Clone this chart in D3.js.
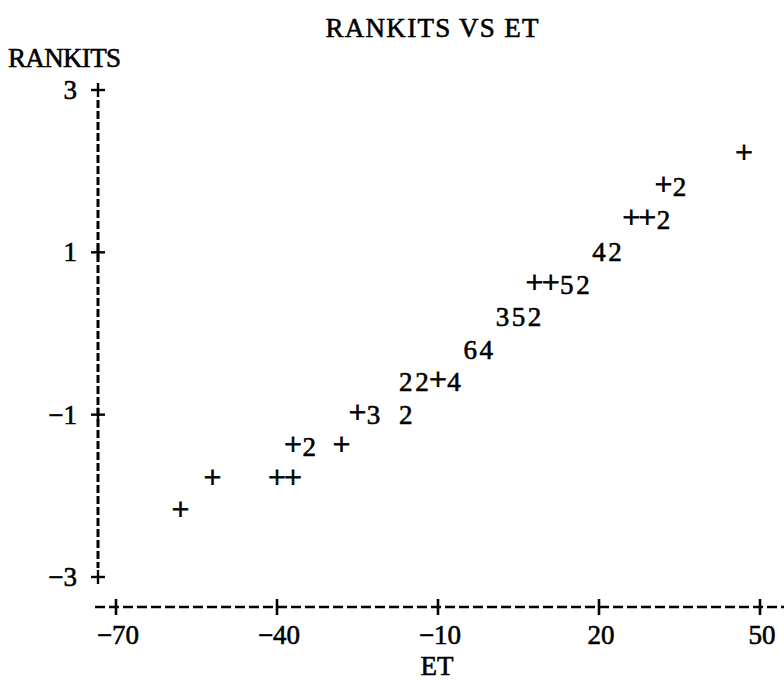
<!DOCTYPE html>
<html>
<head>
<meta charset="utf-8">
<script src="https://cdn.jsdelivr.net/npm/d3@7/dist/d3.min.js"></script>
<style>
  html, body { margin: 0; padding: 0; background: #fff; }
  svg { display: block; }
  text { font-family: "Liberation Serif", "DejaVu Serif", serif; fill: #000;
         stroke: #000; stroke-width: 0.6px; }
  text.plus { stroke-width: 0.9px; }
</style>
</head>
<body>
<svg id="chart" width="784" height="684"></svg>
<script>
// Line-printer style normal probability plot: RANKITS against ET.
// Each plotted cell holds one or more observations; "+" marks a single
// observation, a digit gives the number of observations in that cell.
const cellET     = [47, 32, 35, 26, 29, 32, 20, 23, 8, 11, 14, 17, 2, 5, 8, -4, -1,
                    -16, -13, -10, -7, -25, -22, -16, -37, -34, -28, -52, -40, -37, -58];
const cellRankit = [2.2, 1.8, 1.8, 1.4, 1.4, 1.4, 1.0, 1.0, 0.6, 0.6, 0.6, 0.6,
                    0.2, 0.2, 0.2, -0.2, -0.2, -0.6, -0.6, -0.6, -0.6,
                    -1.0, -1.0, -1.0, -1.4, -1.4, -1.4, -1.8, -1.8, -1.8, -2.2];
const cellCount  = [1, 1, 2, 1, 1, 2, 4, 2, 1, 1, 5, 2, 3, 5, 2, 6, 4,
                    2, 2, 1, 4, 1, 3, 2, 1, 2, 1, 1, 1, 1, 1];

const xTicks = [-70, -40, -10, 20, 50];
const yTicks = [3, 1, -1, -3];
const xTickLabels = ["\u221270", "\u221240", "\u221210", "20", "50"];
const yTickLabels = ["3", "1", "\u22121", "\u22123"];

const svg = d3.select("#chart");
const fontSize = 27;
const plusSize = 31;

const x = d3.scaleLinear().domain([-70, 50]).range([116, 760]);
const y = d3.scaleLinear().domain([-3, 3]).range([577, 90]);

const axisX = 98;     // column of the vertical axis
const axisY = 607;    // row of the horizontal axis

// Title and axis names
svg.append("text")
  .attr("x", 432).attr("y", 37)
  .attr("text-anchor", "middle")
  .attr("font-size", fontSize)
  .attr("textLength", 213).attr("lengthAdjust", "spacing")
  .text("RANKITS VS ET");

svg.append("text")
  .attr("x", 8).attr("y", 67)
  .attr("font-size", fontSize)
  .attr("textLength", 113).attr("lengthAdjust", "spacing")
  .text("RANKITS");

svg.append("text")
  .attr("x", 437).attr("y", 675)
  .attr("text-anchor", "middle")
  .attr("font-size", fontSize)
  .text("ET");

// Vertical axis: broken bar with "+" crossings at each tick
svg.append("line")
  .attr("x1", axisX).attr("x2", axisX)
  .attr("y1", y(3) + 10).attr("y2", y(-3) - 9)
  .attr("stroke", "#000").attr("stroke-width", 3)
  .attr("stroke-dasharray", "8,3");

const yt = svg.append("g").attr("stroke", "#000").attr("stroke-width", 2.4);
yt.selectAll("line.h").data(yTicks).join("line")
  .attr("class", "h")
  .attr("x1", axisX - 7).attr("x2", axisX + 7)
  .attr("y1", d => y(d)).attr("y2", d => y(d));
yt.selectAll("line.v").data(yTicks).join("line")
  .attr("class", "v")
  .attr("x1", axisX).attr("x2", axisX)
  .attr("y1", d => y(d) - 7).attr("y2", d => y(d) + 7);
svg.append("g").selectAll("text").data(yTicks).join("text")
  .attr("x", 77).attr("y", d => y(d) + 9)
  .attr("text-anchor", "end")
  .attr("font-size", fontSize)
  .text((d, i) => yTickLabels[i]);

// Horizontal axis: dashed rule with "+" crossings at each tick
svg.append("line")
  .attr("x1", 95).attr("x2", 784)
  .attr("y1", axisY).attr("y2", axisY)
  .attr("stroke", "#000").attr("stroke-width", 2.4)
  .attr("stroke-dasharray", "10,4");

const xt = svg.append("g");
xt.selectAll("line").data(xTicks).join("line")
  .attr("x1", d => x(d)).attr("x2", d => x(d))
  .attr("y1", axisY - 8).attr("y2", axisY + 8)
  .attr("stroke", "#000").attr("stroke-width", 2.6);
xt.selectAll("text").data(xTicks).join("text")
  .attr("x", d => x(d) + 2).attr("y", 644)
  .attr("text-anchor", "middle")
  .attr("font-size", fontSize)
  .text((d, i) => xTickLabels[i]);

// Plotted cells
const cells = cellET.map((e, i) => ({ et: e, r: cellRankit[i], n: cellCount[i] }));
svg.append("g").selectAll("text").data(cells).join("text")
  .attr("class", d => d.n === 1 ? "plus" : "count")
  .attr("x", d => x(d.et))
  .attr("y", d => y(d.r) + (d.n === 1 ? 8 : 9))
  .attr("text-anchor", "middle")
  .attr("font-size", d => d.n === 1 ? plusSize : fontSize)
  .text(d => d.n === 1 ? "+" : String(d.n));
</script>
</body>
</html>
